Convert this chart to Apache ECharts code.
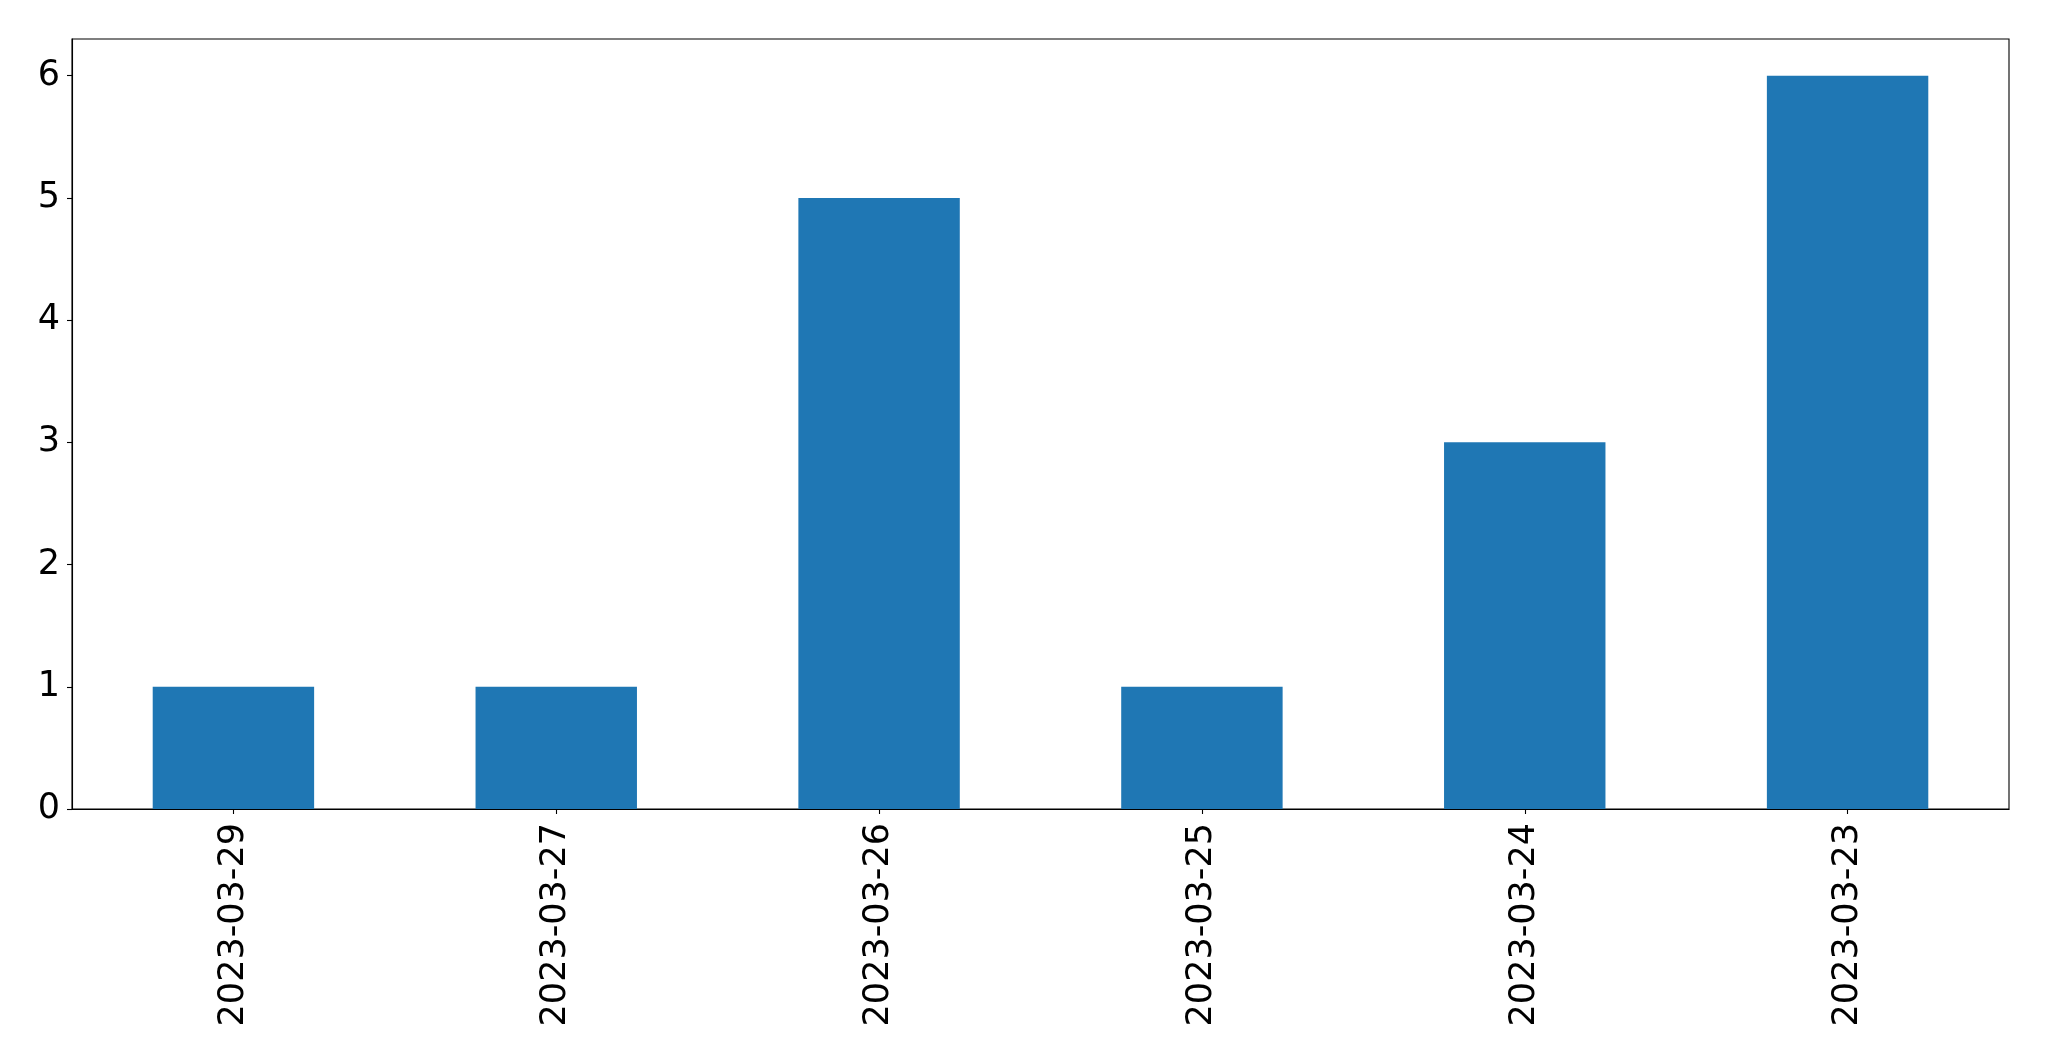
<!DOCTYPE html>
<html>
<head>
<meta charset="utf-8">
<script src="https://cdn.jsdelivr.net/npm/echarts@6/dist/echarts.min.js"></script>
<style>
html,body{margin:0;padding:0;background:#fff;}
#chart{width:2049px;height:1061px;}
</style>
</head>
<body>
<div id="chart"></div>
<script>
const categories = ['2023-03-29','2023-03-27','2023-03-26','2023-03-25','2023-03-24','2023-03-23'];
const counts = [1, 1, 5, 1, 3, 6];
const yTicks = [0, 1, 2, 3, 4, 5, 6];

const chart = echarts.init(document.getElementById('chart'));
const font = 'DejaVu Sans';
chart.setOption({
  animation: false,
  backgroundColor: '#ffffff',
  grid: {
    left: 72, top: 39, right: 40, bottom: 252,
    show: true, borderColor: '#000', borderWidth: 1.1, backgroundColor: 'transparent'
  },
  xAxis: {
    type: 'category',
    data: categories,
    boundaryGap: true,
    axisLine: { show: true, lineStyle: { color: '#000', width: 1.1 } },
    axisTick: { show: true, alignWithLabel: true, length: 5, lineStyle: { color: '#000', width: 1.1 } },
    axisLabel: { rotate: 90, margin: 14, color: '#000', fontFamily: font, fontSize: 35, interval: 0 },
    splitLine: { show: false }
  },
  yAxis: {
    type: 'value',
    min: 0, max: 6.3,
    axisLine: { show: true, lineStyle: { color: '#000', width: 1.1 } },
    axisTick: { show: true, length: 5, customValues: yTicks, lineStyle: { color: '#000', width: 1.1 } },
    axisLabel: { customValues: yTicks, margin: 12, color: '#000', fontFamily: font, fontSize: 35 },
    splitLine: { show: false }
  },
  series: [{
    type: 'bar',
    data: counts,
    barWidth: '50%',
    itemStyle: { color: '#1f77b4' }
  }]
});
</script>
</body>
</html>
